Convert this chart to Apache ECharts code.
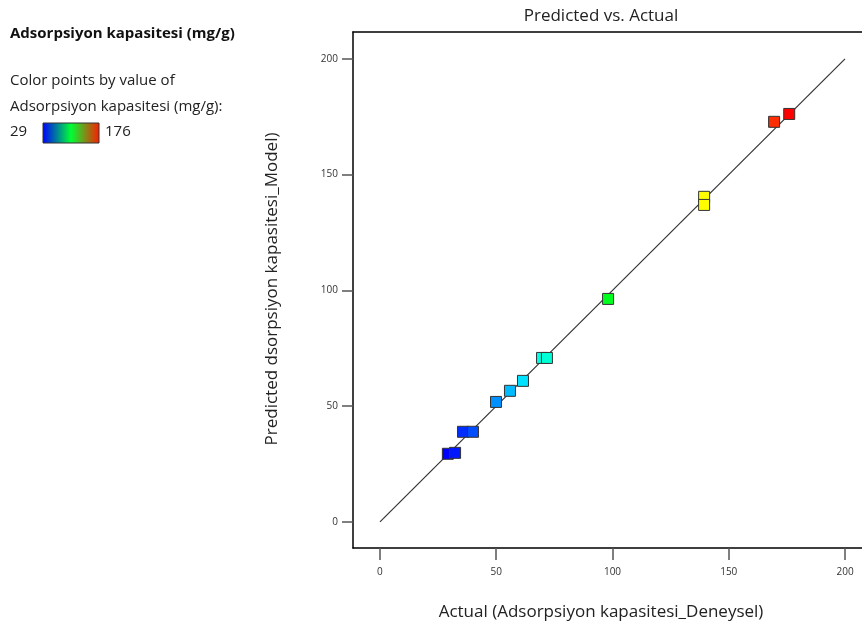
<!DOCTYPE html>
<html>
<head>
<meta charset="utf-8">
<script src="https://cdn.jsdelivr.net/npm/echarts@6/dist/echarts.min.js"></script>
<style>
  html, body { margin: 0; padding: 0; background: #fff; }
  #chart { width: 862px; height: 626px; }
</style>
</head>
<body>
<div id="chart"></div>
<script>
// Actual vs. model-predicted adsorption capacity (mg/g)
const actual    = [29.2, 32.3, 35.7, 40.0, 49.9, 55.9, 61.5, 69.7, 71.8, 98.1, 139.4, 139.4, 169.5, 176.0];
const predicted = [29.4, 29.8, 38.9, 38.9, 51.8, 56.6, 60.9, 70.8, 70.8, 96.3, 140.4, 136.9, 172.8, 176.2];
const tickValues = [0, 50, 100, 150, 200];
const colorMin = 29;
const colorMax = 176;
const lineEnds = [[0, 0], [200, 200]];

const FONT = '"Open Sans", "Noto Sans", sans-serif';
const points = actual.map((a, i) => [a, predicted[i]]);

const chart = echarts.init(document.getElementById('chart'), null, { renderer: 'canvas' });

const tickStyle = { color: '#555', width: 1.5 };
const labelStyle = { color: '#333', fontSize: 10, fontFamily: FONT };

chart.setOption({
  animation: false,
  backgroundColor: '#fff',
  // plot area runs past the right edge of the canvas, so the right border is not shown
  grid: { left: 353, top: 32, right: 0, bottom: 78, show: false },
  xAxis: [
    {
      type: 'value', min: -11.6, max: 207.3,
      axisLine: { show: true, onZero: false, lineStyle: { color: '#000', width: 1.5 } },
      splitLine: { show: false },
      axisTick: { show: true, inside: false, length: 12, customValues: tickValues, lineStyle: tickStyle },
      axisLabel: Object.assign({ customValues: tickValues, margin: 19 }, labelStyle)
    },
    {
      // top frame line
      type: 'value', position: 'top', min: -11.6, max: 207.3,
      axisLine: { show: true, onZero: false, lineStyle: { color: '#000', width: 1.5 } },
      splitLine: { show: false }, axisTick: { show: false }, axisLabel: { show: false }
    }
  ],
  yAxis: {
    type: 'value', min: -11.3, max: 211.6,
    axisLine: { show: true, onZero: false, lineStyle: { color: '#000', width: 1.5 } },
    splitLine: { show: false },
    axisTick: { show: true, inside: false, length: 11, customValues: tickValues, lineStyle: tickStyle },
    axisLabel: Object.assign({ customValues: tickValues, margin: 15 }, labelStyle)
  },
  visualMap: {
    show: false, type: 'continuous', dimension: 0, seriesIndex: 1,
    min: colorMin, max: colorMax,
    inRange: { color: ['#0000ff', '#00ffff', '#00ff00', '#ffff00', '#ff0000'] }
  },
  series: [
    {
      type: 'line', data: lineEnds, symbol: 'none', silent: true,
      lineStyle: { color: '#333', width: 1.2 }, z: 2
    },
    {
      type: 'scatter', data: points, symbol: 'rect', symbolSize: 11,
      itemStyle: { borderColor: '#333', borderWidth: 1, opacity: 1 }, z: 3
    }
  ],
  graphic: [
    {
      type: 'text', x: 601, y: 16,
      style: { text: 'Predicted vs. Actual', fill: '#222', font: '17px ' + FONT, align: 'center', verticalAlign: 'middle' }
    },
    {
      type: 'text', x: 601, y: 612,
      style: { text: 'Actual (Adsorpsiyon kapasitesi_Deneysel)', fill: '#222', font: '17px ' + FONT, align: 'center', verticalAlign: 'middle' }
    },
    {
      type: 'text', x: 272, y: 289, rotation: Math.PI / 2,
      style: { text: 'Predicted dsorpsiyon kapasitesi_Model)', fill: '#222', font: '17px ' + FONT, align: 'center', verticalAlign: 'middle' }
    },
    {
      type: 'text', x: 10, y: 34,
      style: { text: 'Adsorpsiyon kapasitesi (mg/g)', fill: '#111', font: 'bold 15px ' + FONT, verticalAlign: 'middle' }
    },
    {
      type: 'text', x: 10, y: 81,
      style: { text: 'Color points by value of', fill: '#222', font: '15px ' + FONT, verticalAlign: 'middle' }
    },
    {
      type: 'text', x: 10, y: 107,
      style: { text: 'Adsorpsiyon kapasitesi (mg/g):', fill: '#222', font: '15px ' + FONT, verticalAlign: 'middle' }
    },
    {
      type: 'text', x: 10, y: 132,
      style: { text: String(colorMin), fill: '#222', font: '15px ' + FONT, verticalAlign: 'middle' }
    },
    {
      type: 'rect', shape: { x: 43, y: 123, width: 56, height: 20 },
      style: {
        stroke: '#333', lineWidth: 1,
        fill: new echarts.graphic.LinearGradient(0, 0, 1, 0, [
          { offset: 0, color: '#0000ff' },
          { offset: 0.5, color: '#00ff33' },
          { offset: 1, color: '#ff1a00' }
        ])
      }
    },
    {
      type: 'text', x: 105, y: 132,
      style: { text: String(colorMax), fill: '#222', font: '15px ' + FONT, verticalAlign: 'middle' }
    }
  ]
});
</script>
</body>
</html>
